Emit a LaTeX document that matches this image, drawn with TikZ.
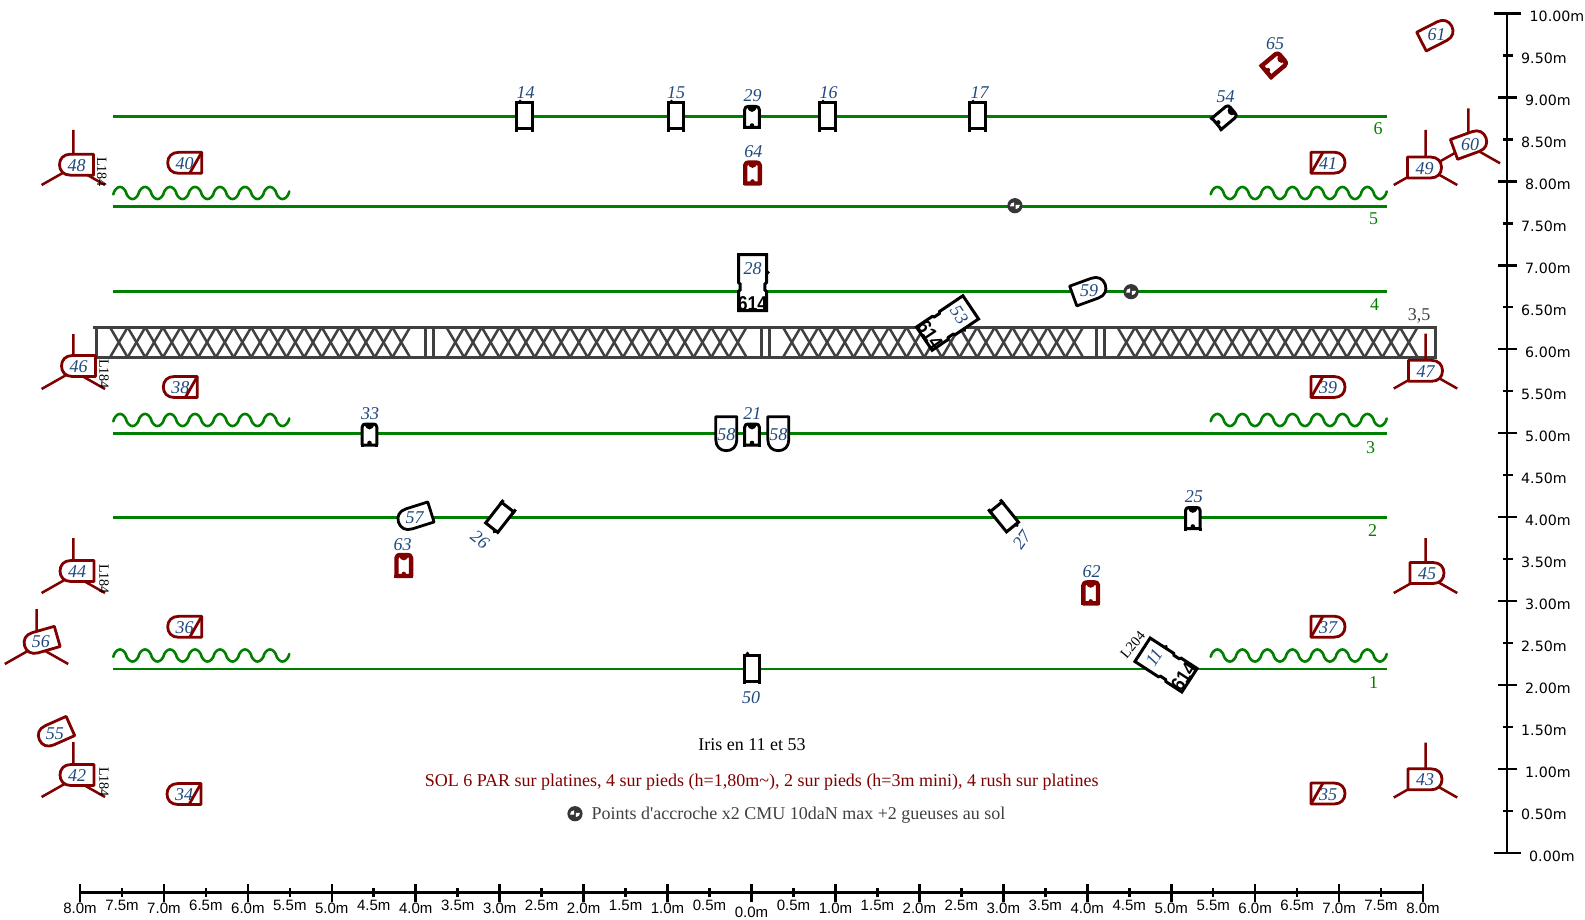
\documentclass[tikz,border=0pt]{standalone}
\usepackage{fontspec}
\setmainfont{Liberation Serif}[Ligatures=TeXOff]
\newfontfamily\arialf{Liberation Sans}
\newfontfamily\dejaf{DejaVu Sans}
\definecolor{lblue}{HTML}{1F497D}
\definecolor{dred}{HTML}{800000}
\definecolor{lgreen}{HTML}{008000}
\definecolor{tgray}{HTML}{404040}
\newcounter{nn}
\tikzset{
  lbl/.style={inner sep=0pt,text=lblue,font=\fontsize{18}{18}\selectfont\itshape,yshift=-0.8pt},
  txt/.style={inner sep=0pt,font=\fontsize{18}{20}\selectfont,yshift=-1.5pt},
  lng/.style={inner sep=0pt,font=\fontsize{14.2}{15}\selectfont,text=black},
  grn/.style={inner sep=0pt,text=lgreen,font=\fontsize{18}{20}\selectfont,yshift=-0.8pt},
  rh/.style={inner sep=0pt,font=\arialf\fontsize{15}{16}\selectfont,yshift=-0.5pt},
  rv/.style={inner sep=0pt,anchor=west,font=\dejaf\fontsize{14.2}{16}\selectfont,yshift=-1.6pt},
  gline/.style={lgreen,line width=2.5pt},
  gwave/.style={lgreen,line width=2.6pt,line cap=round,line join=round},
  trusl/.style={tgray,line width=3pt},
  trusx/.style={tgray,line width=2.5pt},
  legs/.style={dred,line width=2.5pt},
  rulel/.style={black,line width=2.6pt},
}
% PAR body: x,y,rot,colour
\newcommand\parbody[4]{\begin{scope}[shift={(#1,#2)},rotate=#3]
  \draw[#4,line width=2.8pt,fill=white,line join=round] (-17,-10.5) -- (6,-10.5) .. controls (13,-10.5) and (17,-6) .. (17,0) .. controls (17,6) and (13,10.5) .. (6,10.5) -- (-17,10.5) -- cycle;
  \end{scope}}
\newcommand\pardev[5]{\parbody{#1}{#2}{#3}{#4}\stepcounter{nn}\node[lbl,name=n\arabic{nn}] at (#1,#2) {#5};}
\newcommand\pardiag[4]{\parbody{#1}{#2}{#3}{dred}%
  \stepcounter{nn}\node[lbl,name=n\arabic{nn}] at (#1,#2) {#4};%
  \begin{scope}[shift={(#1,#2)},rotate=#3]\draw[dred,line width=2.8pt] (-17,10.5) -- (-5,-10.5);\end{scope}}
% tripod: x,y
\newcommand\tripod[2]{\begin{scope}[shift={(#1,#2)}]\draw[legs] (0,-37) -- (0,0) (-31.7,18) -- (0,0) -- (31.7,18);\end{scope}}
% rectangular fixture: x,y,rot
\newcommand\rectdev[3]{\begin{scope}[shift={(#1,#2)},rotate=#3]
  \draw[black,line width=3pt,fill=white] (-7.7,-13.5) rectangle (7.7,12.5);
  \draw[black,line width=3pt] (-7.7,10) -- (-7.7,15.5) (7.7,10) -- (7.7,15.5);
  \fill[black] (-4.5,-15) circle (1.9);
  \end{scope}}
% small fixture: x,y,rot,colour,width
\newcommand\smdev[5]{\begin{scope}[shift={(#1,#2)},rotate=#3]
  \draw[#4,line width=#5pt,fill=white,line join=round] (-7.3,10) -- (-7.3,-8) .. controls (-7.3,-10.5) and (-5.5,-11) .. (-3.5,-11) -- (3.5,-11) .. controls (5.5,-11) and (7.3,-10.5) .. (7.3,-8) -- (7.3,10) -- cycle;
  \draw[#4,line width=#5pt] (-7.3,9) -- (-7.3,12) (7.3,9) -- (7.3,12);
  \fill[#4] (-4.6,-10.5) .. controls (-3.6,-4) and (3.6,-4) .. (4.6,-10.5) -- cycle;
  \fill[#4] (0,8) circle (2.3);
  \end{scope}}
% large fixture: x,y,rot,label
\newcommand\bigdev[4]{\begin{scope}[shift={(#1,#2)},rotate=#3,every node/.append style={transform shape}]
  \draw[black,line width=3pt,fill=white,line join=miter] (-14,-28) -- (14,-28) -- (14,0) -- (12.4,1.5) -- (12.4,7.5) -- (14,9) -- (14,28) -- (-14,28) -- (-14,9) -- (-12.4,7.5) -- (-12.4,1.5) -- (-14,0) -- cycle;
  \fill[black] (15.5,-10) circle (1.9);
  \stepcounter{nn}\node[lbl,name=n\arabic{nn}] at (0,-15) {#4};
  \stepcounter{nn}\node[inner sep=0pt,name=n\arabic{nn},text=black,font=\arialf\bfseries\fontsize{20}{20}\selectfont,xscale=0.88] at (0,21) {614};
  \end{scope}}
\newcommand\hook[2]{\begin{scope}[shift={(#1,#2)}]
  \fill[tgray!85!black] (0,0) circle (7.6);
  \fill[white] (0.8,-0.8) -- (5,-0.8) arc (0:90:4.2) -- cycle;
  \fill[white] (-0.8,0.8) -- (-5,0.8) arc (180:270:4.2) -- cycle;
  \end{scope}}
\newcommand\tlabel[3]{\stepcounter{nn}\node[lbl,name=n\arabic{nn}] at (#1,#2) {#3};}
\begin{document}
\begin{tikzpicture}[x=1pt,y=-1pt,
  declare function={wv(\t)=cos(14.4*(\t-6.7))*pow(cos(14.4*(\t-6.7))*cos(14.4*(\t-6.7))+0.001,-0.16);}]
\useasboundingbox (0,0) rectangle (1585,920);
\fill[white] (0,0) rectangle (1585,920);
% green bars
\foreach \y in {116.5,206.7,291.3,433.7,517.7,669}{\draw[gline] (113.3,\y) -- (1387,\y);}
\node[grn,name=g6] at (1378,128) {6};
\node[grn,name=g5] at (1373.5,218) {5};
\node[grn,name=g4] at (1374.5,304) {4};
\node[grn,name=g3] at (1370.5,447) {3};
\node[grn,name=g2] at (1372.5,530) {2};
\node[grn,name=g1] at (1373.5,682) {1};
% cycloramas
\foreach \c in {193,420,655.5}{
  \draw[gwave] plot[domain=0:176,samples=240] ({\x+113.3},{\c-6*wv(\x)});
  \draw[gwave] plot[domain=0:176,samples=240] ({\x+1210.7},{\c-6*wv(\x)});
}
% truss
\draw[trusl] (93,327.3) -- (1437,327.3);
\draw[trusl] (95.5,357.3) -- (1437,357.3);
\foreach \v in {96.7,425,433,761,769,1096,1104,1435}{\draw[trusl] (\v,327.3) -- (\v,357.3);}
\foreach \s in {110,446.5,783,1117.5}{
  \foreach \k in {0,...,16}{
    \draw[trusx] ({\s+\k*17.65},327.3) -- ({\s+(\k+1)*17.65},357.3);
    \draw[trusx] ({\s+\k*17.65},357.3) -- ({\s+(\k+1)*17.65},327.3);
  }
}
\node[txt,text=tgray,name=t35] at (1419.2,314.4) {3,5};
% tripods
\tripod{1468.4}{145.3}
\tripod{73.3}{167}
\tripod{73.3}{371}
\tripod{73.3}{575}
\tripod{73.3}{779}
\tripod{36.5}{646}
\tripod{1425.5}{167}
\tripod{1425.5}{370.5}
\tripod{1425.5}{575}
\tripod{1425.5}{779.5}
% tripod PARs
\pardev{76.5}{164.7}{180}{dred}{48}
\pardev{78.5}{366}{180}{dred}{46}
\pardev{77}{571}{180}{dred}{44}
\pardev{77}{775}{180}{dred}{42}
\pardev{40.9}{641.1}{196}{dred}{56}
\pardev{1470}{143.6}{20}{dred}{60}
\pardev{1424.5}{167.5}{0}{dred}{49}
\pardev{1425.5}{370.8}{0}{dred}{47}
\pardev{1427}{573}{0}{dred}{45}
\pardev{1425}{779.3}{0}{dred}{43}
\pardev{54.9}{732.9}{204}{dred}{55}
\pardev{1436.6}{33.9}{27}{dred}{61}
\node[lng,rotate=-90,name=ll1] at (101.7,172) {L184};
\node[lng,rotate=-90,name=ll2] at (104,374) {L184};
\node[lng,rotate=-90,name=ll3] at (104,579) {L184};
\node[lng,rotate=-90,name=ll4] at (104,782) {L184};
% PAR with diagonal
\pardiag{184.7}{162.8}{180}{40}
\pardiag{180.3}{387}{180}{38}
\pardiag{184.7}{626.8}{180}{36}
\pardiag{184}{794}{180}{34}
\pardiag{1328}{162.7}{0}{41}
\pardiag{1328}{387}{0}{39}
\pardiag{1328}{626.7}{0}{37}
\pardiag{1328}{793.5}{0}{35}
% black PARs
\pardev{414.7}{517.1}{197.5}{black}{57}
\pardev{1089.2}{290.2}{20}{black}{59}
\pardev{726.3}{433.7}{-90}{black}{58}
\pardev{778.3}{433.7}{-90}{black}{58}
% rect fixtures
\rectdev{524.6}{116.5}{0} \tlabel{525.6}{92}{14}
\rectdev{676}{116.5}{0} \tlabel{676.2}{92}{15}
\rectdev{827.5}{116.5}{0} \tlabel{828.5}{92}{16}
\rectdev{977.5}{116.5}{0} \tlabel{979.5}{92}{17}
\rectdev{752}{668.5}{0} \tlabel{751}{696.5}{50}
\rectdev{500}{517}{142}
\node[lbl,rotate=-38,name=l26] at (480,539) {26};
\rectdev{1004}{516.5}{219}
\node[lbl,rotate=55,name=l27] at (1021.7,539.3) {27};
% small fixtures
\smdev{752}{117.5}{0}{black}{3} \tlabel{752.7}{95}{29}
\smdev{752.5}{173.5}{0}{dred}{4.4} \tlabel{753.3}{151}{64}
\smdev{752}{435}{0}{black}{3} \tlabel{752.3}{412.3}{21}
\smdev{369.5}{435}{0}{black}{3} \tlabel{370}{412.4}{33}
\smdev{1192.8}{518.5}{0}{black}{3} \tlabel{1193.8}{496.3}{25}
\smdev{403.8}{566}{0}{dred}{4.4} \tlabel{402.7}{544}{63}
\smdev{1090.7}{593.4}{0}{dred}{4.4} \tlabel{1091.7}{571}{62}
\smdev{1224.3}{117.3}{-50}{black}{3} \tlabel{1225.7}{95.7}{54}
\smdev{1274}{65}{-50}{dred}{4.4} \tlabel{1275}{42.7}{65}
% large fixtures
\bigdev{752.5}{282.5}{0}{28}
\bigdev{947.5}{323}{-56}{53}
\bigdev{1166}{665}{57}{11}
\node[lng,rotate=50,name=l204] at (1132.7,645) {L204};
% hanging points
\hook{1014.9}{205.7}
\hook{1131}{291.7}
\hook{575}{813.7}
% notes
\node[txt,text=black,name=note1] at (752,743) {Iris en 11 et 53};
\node[txt,text=dred,name=note2] at (761.7,780.3) {SOL 6 PAR sur platines, 4 sur pieds (h=1,80m\textasciitilde), 2 sur pieds (h=3m mini), 4 rush sur platines};
\node[txt,text=tgray,name=note3] at (798.5,813.7) {Points d'accroche x2 CMU 10daN max +2 gueuses au sol};
% horizontal ruler
\draw[rulel] (80,892.7) -- (1423,892.7);
\foreach \i in {-8,...,8}{
  \pgfmathsetmacro\xx{751.5+\i*83.94}
  \draw[rulel] (\xx,884) -- (\xx,902);
  \pgfmathtruncatemacro\aa{abs(\i)}
  \ifnum\i=0\node[rh] at (\xx,912) {0.0m};\else\node[rh] at (\xx,908) {\aa.0m};\fi
}
\foreach \i in {-8,...,7}{
  \pgfmathsetmacro\xx{751.5+(\i+0.5)*83.94}
  \draw[rulel] (\xx,888) -- (\xx,897);
  \pgfmathtruncatemacro\aa{\i<0 ? -\i-1 : \i}
  \node[rh] at (\xx,904.5) {\aa.5m};
}
% vertical ruler
\draw[rulel] (1507,13.3) -- (1507,853);
\draw[rulel] (1494,13.3) -- (1521,13.3);
\draw[rulel] (1494,853) -- (1521,853);
\node[rv] at (1529.5,15) {10.00m};
\node[rv] at (1529,854.5) {0.00m};
\foreach \i in {1,...,9}{
  \pgfmathsetmacro\yy{853-\i*83.97}
  \draw[rulel] (1498,\yy) -- (1517,\yy);
  \node[rv] at (1525,\yy+1.5) {\i.00m};
}
\foreach \i in {0,...,9}{
  \pgfmathsetmacro\yy{853-(\i+0.5)*83.97}
  \draw[rulel] (1503,\yy) -- (1513,\yy);
  \node[rv] at (1521,\yy+1.5) {\i.50m};
}
\end{tikzpicture}
\end{document}
